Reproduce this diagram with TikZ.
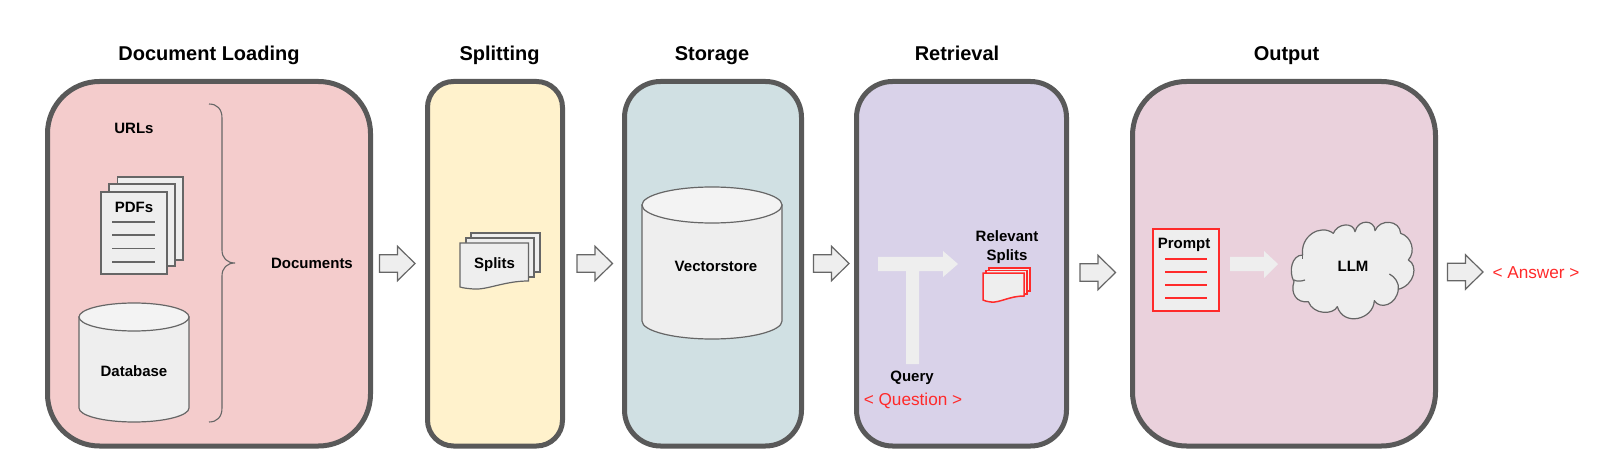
\documentclass[tikz,border=0pt]{standalone}
\usepackage{fontspec}
\setmainfont{Liberation Sans}
\definecolor{boxline}{HTML}{595959}
\definecolor{shapeline}{HTML}{666666}
\definecolor{shapefill}{HTML}{EEEEEE}
\definecolor{shapetop}{HTML}{F3F3F3}
\definecolor{redline}{HTML}{FF2A2A}
\definecolor{panelred}{HTML}{F4CCCC}
\definecolor{panelyellow}{HTML}{FFF2CC}
\definecolor{panelblue}{HTML}{D0E0E3}
\definecolor{panelviolet}{HTML}{D9D2E9}
\definecolor{panelpink}{HTML}{EAD1DC}
\tikzset{
  panel/.style={draw=boxline,line width=5pt,inner sep=0pt,anchor=north west,outer sep=0pt},
  sheet/.style={draw=shapeline,fill=shapefill,line width=1.2pt},
  redsheet/.style={draw=redline,fill=shapefill,line width=1.5pt},
  rule/.style={draw=shapeline,line width=1.1pt},
  redrule/.style={draw=redline,line width=1.2pt},
  heading/.style={anchor=base,font=\fontsize{20}{24}\selectfont\bfseries,inner sep=0pt},
  label/.style={anchor=base,font=\fontsize{15}{18}\selectfont\bfseries,inner sep=0pt},
  redlabel/.style={anchor=base,text=redline,font=\fontsize{17.2}{20}\selectfont,inner sep=0pt},
  paleflow/.style={fill=shapefill,draw=none},
}
% hollow block arrow with its left edge at x and its axis at y
\newcommand{\blockarrow}[2]{%
  \draw[sheet,line join=miter] (#1,#2-8.7)--(#1+18,#2-8.7)--(#1+18,#2-17.2)--(#1+35.5,#2)--(#1+18,#2+17.2)--(#1+18,#2+8.7)--(#1,#2+8.7)--cycle;}
% cylinder: left, right, top-ellipse centre, bottom-ellipse centre, ry
\newcommand{\drum}[5]{%
  \draw[sheet] (#1,#3) -- (#1,#4) arc[start angle=180,end angle=360,x radius={(#2-#1)/2*1pt},y radius=#5 pt] -- (#2,#3) -- cycle;
  \draw[sheet,fill=shapetop] ({(#1+#2)/2},#3) ellipse[x radius={(#2-#1)/2*1pt},y radius=#5 pt];}
% torn-bottom sheet: left, right, top, bottom-left, bottom-right
\newcommand{\tornsheet}[6]{%
  \draw[#6] (#1,#3) -- (#2,#3) -- (#2,#5) .. controls ({#2-0.35*(#2-#1)},#5) and ({#1+0.4*(#2-#1)},#4+2) .. ({#1+0.2*(#2-#1)},#4+1) .. controls ({#1+0.1*(#2-#1)},#4+0.5) and ({#1+0.05*(#2-#1)},#4) .. (#1,#4-1) -- cycle;}
\begin{document}
\begin{tikzpicture}[x=1pt,y=-1pt]
\useasboundingbox (0,0) rectangle (1612,473);
\fill[white] (0,0) rectangle (1612,473);

% panels
\node[panel,fill=panelred,minimum width=323pt,minimum height=364.5pt,rounded corners=52pt] (loading) at (47.5,81.5) {};
\node[panel,fill=panelyellow,minimum width=135pt,minimum height=364.5pt,rounded corners=26pt] (splitting) at (427.5,81.5) {};
\node[panel,fill=panelblue,minimum width=177pt,minimum height=364.5pt,rounded corners=36pt] (storage) at (624.5,81.5) {};
\node[panel,fill=panelviolet,minimum width=210pt,minimum height=364.5pt,rounded corners=36pt] (retrieval) at (856.5,81.5) {};
\node[panel,fill=panelpink,minimum width=303pt,minimum height=364.5pt,rounded corners=54pt] (output) at (1132.5,81.5) {};

% headings
\node[heading] (h1) at (209,60.5) {Document Loading};
\node[heading] (h2) at (499.5,60.5) {Splitting};
\node[heading] (h3) at (712,60.5) {Storage};
\node[heading] (h4) at (957,60.5) {Retrieval};
\node[heading] (h5) at (1286.5,60.5) {Output};

% document loading
\node[label] (urls) at (134,133.4) {URLs};
\draw[sheet] (117.5,177) rectangle (183,260);
\draw[sheet] (109,184) rectangle (175,266);
\draw[sheet] (101,192) rectangle (167,274);
\node[label] (pdfs) at (134,212.4) {PDFs};
\foreach \yy in {222,235,248.5,262} \draw[rule] (112,\yy) -- (155,\yy);
\drum{79}{189}{317}{408}{14}
\node[label] (database) at (134,376.4) {Database};
\draw[shapeline,line width=1.1pt] (209,104) .. controls (217,104) and (222,109) .. (222,118) -- (222,250) .. controls (222,258) and (227,263) .. (235,263) .. controls (227,263) and (222,268) .. (222,276) -- (222,408) .. controls (222,417) and (217,422) .. (209,422);
\node[label] (documents) at (312,268.5) {Documents};

% arrows between panels
\blockarrow{379.5}{263.5}
\blockarrow{577}{263.5}
\blockarrow{813.5}{263.5}
\blockarrow{1080}{272.5}
\blockarrow{1447.5}{272}

% splitting
\draw[sheet] (471,233) rectangle (540,272);
\draw[sheet] (466,238) rectangle (534,277);
\tornsheet{460}{528.5}{243}{288}{281}{sheet}
\node[label] (splits) at (494.5,269) {Splits};

% storage
\drum{642}{782}{205}{321}{18}
\node[label] (vectorstore) at (716,271.5) {Vectorstore};

% retrieval
\fill[paleflow] (906,364) -- (906,271) -- (878,271) -- (878,257) -- (943,257) -- (943,251) -- (958,264) -- (943,277) -- (943,271) -- (919,271) -- (919,364) -- cycle;
\node[label] (relevant) at (1007,241.4) {Relevant};
\node[label] (relsplits) at (1007,260.4) {Splits};
\draw[redsheet] (989,268) rectangle (1030,291);
\draw[redsheet] (986,270.5) rectangle (1027,294);
\tornsheet{983}{1024}{273}{301}{296}{redsheet}
\node[label] (query) at (912,381.4) {Query};
\node[redlabel] (question) at (913,405.2) {< Question >};

% output
\draw[redsheet] (1153,229) rectangle (1219,311);
\node[label] (prompt) at (1184,248.4) {Prompt};
\foreach \yy in {259,272,285,298} \draw[redrule] (1165,\yy) -- (1207,\yy);
\fill[paleflow] (1230,257) -- (1264,257) -- (1264,251) -- (1278,264) -- (1264,278) -- (1264,271) -- (1230,271) -- cycle;
\begin{scope}[shift={(1280,200)},x=0.3333pt,y=-0.3333pt]
\draw[sheet,line join=round] (68,165) .. controls (60,110) and (120,70) .. (160,100)
  .. controls (172,70) and (220,65) .. (225,95)
  .. controls (235,55) and (285,60) .. (285,92)
  .. controls (300,55) and (360,60) .. (362,100)
  .. controls (395,110) and (408,155) .. (385,180)
  .. controls (415,195) and (405,255) .. (355,268)
  .. controls (350,315) and (300,330) .. (283,302)
  .. controls (280,360) and (190,380) .. (172,320)
  .. controls (160,345) and (100,345) .. (85,305)
  .. controls (50,310) and (30,280) .. (42,245)
  .. controls (25,215) and (35,165) .. (68,165) -- cycle;
\draw[shapeline,line width=1.2pt] (42,240) .. controls (50,245) and (65,244) .. (75,240);
\draw[shapeline,line width=1.2pt] (328,222) .. controls (345,230) and (358,250) .. (355,268);
\draw[shapeline,line width=1.2pt] (68,165) -- (68,178);
\end{scope}
\node[label] (llm) at (1353,271.5) {LLM};
\node[redlabel] (answer) at (1536,278.2) {< Answer >};
\end{tikzpicture}
\end{document}
